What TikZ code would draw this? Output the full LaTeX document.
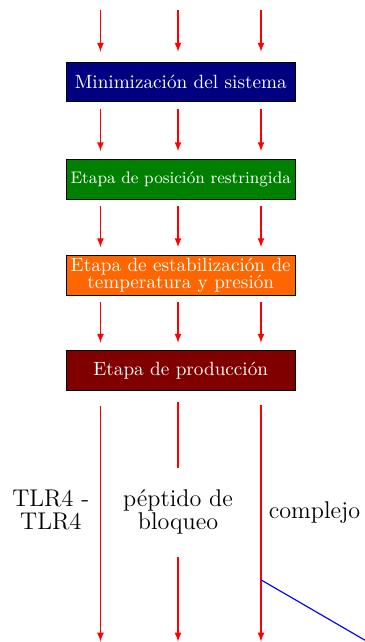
\documentclass[tikz,border=0pt]{standalone}
\usetikzlibrary{arrows}

\definecolor{minblue}{RGB}{0,0,128}
\definecolor{posgreen}{RGB}{0,128,0}
\definecolor{estorange}{RGB}{255,102,0}
\definecolor{prodred}{RGB}{128,0,0}

\begin{document}
\begin{tikzpicture}[
    stage/.style={draw, rectangle, minimum width=4.19cm, minimum height=0.73cm, inner xsep=1.5pt, inner ysep=1pt, text=white, align=center},
    molname/.style={font=\fontsize{12.6}{15}\selectfont, align=center},
    flow/.style={->, red, semithick},
    gap/.style={shorten <=0.12cm, shorten >=0.14cm},
    >=latex
]
    \useasboundingbox (0,0) rectangle (6.667,-11.758);

    % Column positions
    \coordinate (t1) at (1.84,-0.18);
    \coordinate (t2) at (3.26,-0.18);
    \coordinate (t3) at (4.78,-0.18);
    \coordinate (e1) at (1.84,-11.75);
    \coordinate (e2) at (3.26,-11.75);
    \coordinate (e3) at (4.78,-11.75);

    % Stage boxes
    \node[stage, fill=minblue] (min) at (3.31,-1.50) {Minimización del sistema};
    \node[stage, fill=posgreen, font=\fontsize{8.7}{10.5}\selectfont] (pos) at (3.31,-3.28) {Etapa de posición restringida};
    \node[stage, fill=estorange] (est) at (3.31,-5.04) {Etapa de estabilización de\\[-3pt]temperatura y presión};
    \node[stage, fill=prodred] (prod) at (3.31,-6.79) {Etapa de producción};

    % Molecule labels
    \node[molname] (tlr) at (0.93,-9.34) {TLR4 -\\[-3pt]TLR4};
    \node[molname, minimum height=1.61cm] (pep) at (3.26,-9.38) {péptido de\\[-3pt]bloqueo};
    \node[molname, anchor=west] (comp) at (4.80,-9.38) {complejo};

    % Arrows into the minimization
    \draw[flow, shorten >=0.18cm] (t1) -- (min.north -| t1);
    \draw[flow, shorten >=0.18cm] (t2) -- (min.north -| t2);
    \draw[flow, shorten >=0.18cm] (t3) -- (min.north -| t3);

    % Arrows between stages
    \draw[flow, gap] (min.south -| t1) -- (pos.north -| t1);
    \draw[flow, gap] (min.south -| t2) -- (pos.north -| t2);
    \draw[flow, gap] (min.south -| t3) -- (pos.north -| t3);
    \draw[flow, gap] (pos.south -| t1) -- (est.north -| t1);
    \draw[flow, gap] (pos.south -| t2) -- (est.north -| t2);
    \draw[flow, gap] (pos.south -| t3) -- (est.north -| t3);
    \draw[flow, gap] (est.south -| t1) -- (prod.north -| t1);
    \draw[flow, gap] (est.south -| t2) -- (prod.north -| t2);
    \draw[flow, gap] (est.south -| t3) -- (prod.north -| t3);

    % Arrows out of the production
    \draw[flow, shorten <=0.27cm] (prod.south -| e1) -- (e1);
    \draw[red, semithick, shorten <=0.2cm] (prod.south -| e2) -- (pep);
    \draw[flow] (pep) -- (e2);
    \draw[flow, shorten <=0.25cm] (prod.south -| e3) -- (e3);

    % Complex branch
    \coordinate (cx) at (4.78,-10.62);
    \coordinate (cxend) at (6.9,-11.85);
    \draw[blue, semithick] (cx) -- (cxend);
\end{tikzpicture}
\end{document}
